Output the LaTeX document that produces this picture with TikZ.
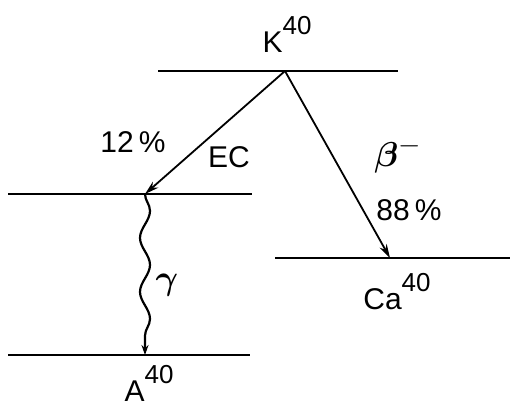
\documentclass[tikz,border=0pt]{standalone}
\usepackage{amsmath}
\usepackage{fontspec}
\setmainfont{Liberation Sans}
\usetikzlibrary{arrows.meta,decorations.pathmorphing}
\begin{document}
\begin{tikzpicture}[
    x=0.5pt, y=-0.5pt,
    level/.style={line width=1.4pt},
    trans/.style={line width=0.9pt, -{Stealth[length=7pt, width=4pt]}},
    wave/.style={line width=1.1pt, decorate, decoration={snake, segment length=27pt, amplitude=2.5pt, post length=6pt}},
    lbl/.style={font=\fontsize{15}{18}\selectfont, inner sep=0pt},
    greek/.style={lbl, font=\fontsize{19}{22}\selectfont},
    iso/.style={lbl}
]
\useasboundingbox (0,0) rectangle (510,414);

% energy levels
\coordinate (kL) at (158,71);  \coordinate (kR) at (398,71);  \coordinate (k) at (285,71);
\coordinate (mL) at (8,194);   \coordinate (mR) at (252,194); \coordinate (m) at (145,194);
\coordinate (aL) at (8,355);   \coordinate (aR) at (250,355); \coordinate (a) at (145,355);
\coordinate (cL) at (275,258); \coordinate (cR) at (510,258); \coordinate (c) at (390,258);
\draw[level] (kL) -- (kR);
\draw[level] (mL) -- (mR);
\draw[level] (aL) -- (aR);
\draw[level] (cL) -- (cR);

% isotopes
\node[iso] (kname) at (287,34) {K\raisebox{0.6em}{\fontsize{13}{14}\selectfont 40}};
\node[iso] (aname) at (149,383) {A\raisebox{0.6em}{\fontsize{13}{14}\selectfont 40}};
\node[iso] (caname) at (397,292) {Ca\raisebox{0.6em}{\fontsize{13}{14}\selectfont 40}};

% transitions
\draw[trans] (k) -- (m);
\draw[trans] (k) -- (c);
\draw[wave, -{Stealth[length=5pt, width=3.5pt]}] (m) -- (a);

% labels
\node[lbl] (ec) at (229,157) {EC};
\node[lbl] (ecp) at (133,142) {12\,\%};
\node[greek] (beta) at (398,155) {$\boldsymbol{\beta}^{\scriptstyle -}$};
\node[lbl] (betap) at (409,210) {88\,\%};
\node[greek] (gam) at (167,285) {$\boldsymbol{\gamma}$};
\end{tikzpicture}
\end{document}
